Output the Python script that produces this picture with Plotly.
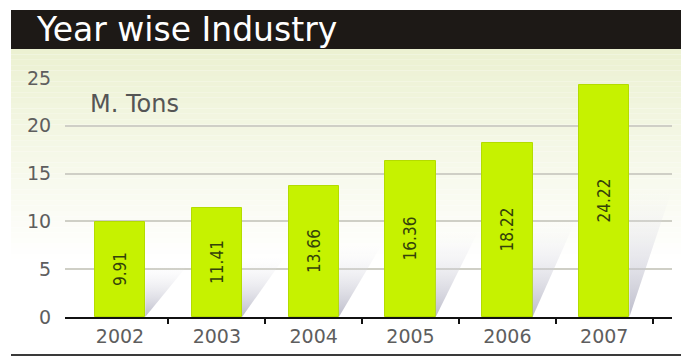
import plotly.graph_objects as go

# ---- data ----
years = ["2002", "2003", "2004", "2005", "2006", "2007"]
values = [9.91, 11.41, 13.66, 16.36, 18.22, 24.22]
value_labels = ["9.91", "11.41", "13.66", "16.36", "18.22", "24.22"]
y_ticks = [0, 5, 10, 15, 20, 25]

W, H = 681, 358
# plot area in pixels
PX0, PX1 = 65, 672
PY_TOP, PY_BOT = 78, 317

def fx(px):
    return px / W

def fy(py):
    return 1 - py / H

xs = list(range(len(years)))
bar_w = 0.52

fig = go.Figure()

# decorative shadows behind the bars, derived from the data
for i, v in enumerate(values):
    xr = xs[i] + bar_w / 2
    hs = v * 0.55
    ws = 0.44
    fig.add_trace(go.Scatter(
        x=[xr, xr, xr + ws, xr], y=[0, hs, hs, 0],
        mode="lines", line=dict(width=0), fill="toself",
        fillgradient=dict(type="vertical",
                          colorscale=[[0, "rgba(175,175,192,0.85)"],
                                      [1, "rgba(235,235,240,0)"]]),
        hoverinfo="skip", showlegend=False,
    ))

fig.add_trace(go.Bar(
    x=xs, y=values, width=bar_w,
    marker=dict(color="#c6f200", line=dict(color="#b4dc00", width=1)),
    text=value_labels, textposition="inside", insidetextanchor="middle",
    textangle=-90, constraintext="none",
    textfont=dict(family="DejaVu Sans Condensed, DejaVu Sans, sans-serif",
                  size=17, color="#34420a"),
    showlegend=False,
))

shapes = []
# panel background gradient (green-cream to white)
top_c = (236, 241, 210)
y0, y1 = 49, 265
n = 40
for k in range(n):
    a = y0 + (y1 - y0) * k / n
    b = y0 + (y1 - y0) * (k + 1) / n
    t = k / (n - 1)
    c = tuple(int(round(top_c[j] + (255 - top_c[j]) * t)) for j in range(3))
    shapes.append(dict(type="rect", xref="paper", yref="paper",
                       x0=fx(11), x1=1, y0=fy(b), y1=fy(a),
                       fillcolor="rgb(%d,%d,%d)" % c, line=dict(width=0),
                       layer="below"))
# black title bar
shapes.append(dict(type="rect", xref="paper", yref="paper",
                   x0=fx(11), x1=1, y0=fy(49), y1=fy(10),
                   fillcolor="#1d1916", line=dict(width=0), layer="below"))
# bottom rule
shapes.append(dict(type="line", xref="paper", yref="paper",
                   x0=fx(11), x1=1, y0=fy(355), y1=fy(355),
                   line=dict(color="#3a3a3a", width=2), layer="above"))

fig.update_layout(
    width=W, height=H,
    margin=dict(l=0, r=0, t=0, b=0),
    paper_bgcolor="white",
    plot_bgcolor="rgba(0,0,0,0)",
    shapes=shapes,
    bargap=0,
    xaxis=dict(
        domain=[fx(PX0), fx(PX1)],
        range=[-0.568, 5.70],
        tickmode="array", tickvals=xs, ticktext=years,
        ticks="", showgrid=False, zeroline=False,
        showline=True, linecolor="#111111", linewidth=2,
        tickfont=dict(family="DejaVu Sans", size=19, color="#5e5e5e"),
        ticklabelstandoff=1,
        minor=dict(tickvals=[x + 0.5 for x in xs], ticks="outside",
                   ticklen=5, tickwidth=2, tickcolor="#111111", showgrid=False),
        automargin=False, fixedrange=True,
    ),
    yaxis=dict(
        domain=[fy(PY_BOT), fy(PY_TOP)],
        range=[0, 25],
        tickmode="array", tickvals=y_ticks,
        ticks="outside", ticklen=9, tickcolor="rgba(0,0,0,0)",
        showgrid=True, gridcolor="#cfcfc6", gridwidth=2,
        zeroline=False, showline=False,
        tickfont=dict(family="DejaVu Sans", size=19, color="#5e5e5e"),
        automargin=False, fixedrange=True,
    ),
    annotations=[
        dict(text="Year wise Industry", xref="paper", yref="paper",
             x=fx(34), y=fy(30), xanchor="left", yanchor="middle",
             showarrow=False,
             font=dict(family="DejaVu Sans", size=33, color="white")),
        dict(text="M. Tons", xref="paper", yref="paper",
             x=fx(88), y=fy(104), xanchor="left", yanchor="middle",
             showarrow=False,
             font=dict(family="DejaVu Sans", size=24, color="#555555")),
    ],
)

fig.write_html("out.html")
